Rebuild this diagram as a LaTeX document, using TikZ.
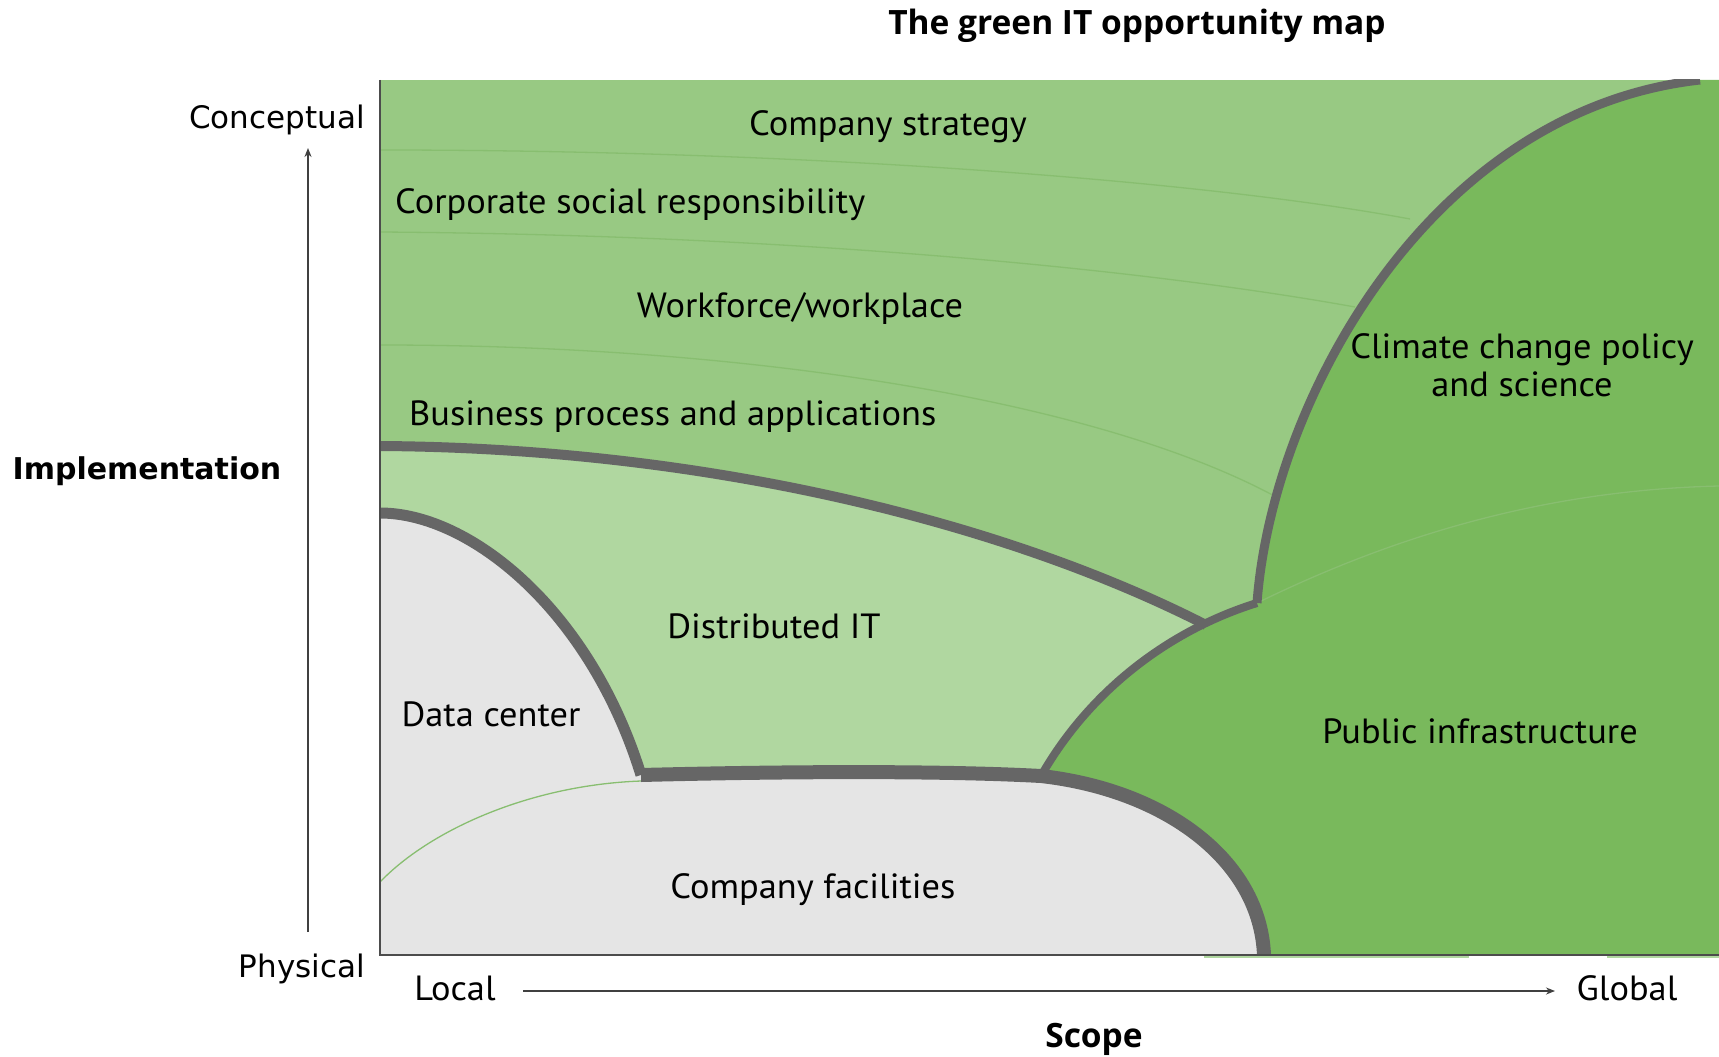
\documentclass[tikz,border=0pt]{standalone}
\usepackage{fontspec}
\setmainfont{PT Sans}[FakeStretch=1.04]
\newfontfamily\axisfont{DejaVu Sans}
\newfontfamily\boldfont{Open Sans}[UprightFont=* Bold]
\usetikzlibrary{arrows.meta}
\definecolor{gTop}{RGB}{152,201,131}
\definecolor{gLight}{RGB}{176,215,160}
\definecolor{gDark}{RGB}{121,185,92}
\definecolor{gGray}{RGB}{229,229,229}
\definecolor{bGray}{RGB}{102,102,102}
\definecolor{gLine}{RGB}{136,190,112}
\begin{document}
\begin{tikzpicture}[x=1pt,y=-1pt,
  lbl/.style={font=\fontsize{35}{40}\selectfont, inner sep=0pt, text=black, anchor=base},
  axlbl/.style={font=\axisfont\fontsize{31}{36}\selectfont, inner sep=0pt, anchor=base east},
  boldlbl/.style={font=\boldfont\fontsize{33.5}{38}\selectfont, inner sep=0pt, anchor=base},
  bound/.style={draw=bGray, line width=10pt, line join=round},
  thinl/.style={draw=gLine, line width=1.3pt},
  axis/.style={draw=black!75, line width=1.6pt, -{Stealth[length=9pt,width=7pt]}},
]
\useasboundingbox (0,0) rectangle (1719,1057);
\fill[white] (0,0) rectangle (1719,1057);
\begin{scope}
\clip (380,80) rectangle (1719,955);
\fill[gTop] (380,80) rectangle (1719,955);
\draw[thinl] (380,150) .. controls (800,150) and (1200,180) .. (1410,219);
\draw[thinl] (380,232) .. controls (800,235) and (1150,270) .. (1355,307);
\draw[thinl] (380,345) .. controls (750,345) and (1100,400) .. (1280,499);
\fill[gLight] (380,446) .. controls (700,448) and (1000,520) .. (1206,625) -- (1264,955) -- (380,955) -- cycle;
\fill[gGray] (380,513) .. controls (470,513) and (590,610) .. (641,775) .. controls (800,771) and (950,771) .. (1041,776) .. controls (1165,790) and (1260,860) .. (1264,955) -- (380,955) -- cycle;
\fill[gDark] (1041,776) .. controls (1090,690) and (1170,630) .. (1257,603) .. controls (1272,400) and (1430,110) .. (1700,80) -- (1719,80) -- (1719,955) -- (1264,955) .. controls (1260,860) and (1165,790) .. (1041,776) -- cycle;
\draw[thinl] (380,882) .. controls (430,830) and (530,785) .. (641,781);
\draw[thinl] (1257,603) .. controls (1400,533) and (1550,490) .. (1719,486);
\draw[bound] (380,446) .. controls (700,448) and (1000,520) .. (1206,625);
\draw[bound, line width=11pt] (380,513) .. controls (470,513) and (590,610) .. (641,775);
\draw[bound, line width=14pt, line cap=butt] (641,775) .. controls (800,771) and (950,771) .. (1041,776) .. controls (1165,790) and (1260,860) .. (1264,955);
\draw[bound, line width=8pt] (1041,776) .. controls (1090,690) and (1170,630) .. (1257,603);
\draw[bound, line width=9pt] (1257,603) .. controls (1272,400) and (1430,110) .. (1700,80);
\end{scope}
\fill[gLight] (1204,956) rectangle (1469,958);
\fill[gLight] (1607,956) rectangle (1719,958);
\draw[black!70, line width=2pt] (380,80) -- (380,955) -- (1719,955);
% region labels
\node[lbl] (cs) at (888,135) {Company strategy};
\node[lbl, anchor=base west] (csr) at (395,213) {Corporate social responsibility};
\node[lbl] (wf) at (800,317) {Workforce/workplace};
\node[lbl, anchor=base west] (bp) at (409,425) {Business process and applications};
\node[lbl] (cc1) at (1522,358) {Climate change policy};
\node[lbl] (cc2) at (1522,396) {and science};
\node[lbl] (dit) at (774,638) {Distributed IT};
\node[lbl] (dc) at (491,726) {Data center};
\node[lbl] (pi) at (1480,743) {Public infrastructure};
\node[lbl] (cf) at (813,898) {Company facilities};
% axes
\node[boldlbl] (title) at (1137,35) {The green IT opportunity map};
\node[axlbl] (con) at (365,128) {Conceptual};
\node[axlbl] (phy) at (365,977) {Physical};
\node[font=\axisfont\bfseries\fontsize{30}{36}\selectfont, inner sep=0pt, anchor=base] (impl) at (147,479) {Implementation};
\coordinate (vb) at (308,932);
\coordinate (vt) at (308,148);
\draw[axis] (vb) -- (vt);
\node[lbl] (loc) at (455,1000) {Local};
\node[lbl] (glo) at (1627,1000) {Global};
\coordinate (hl) at (523,991);
\coordinate (hr) at (1555,991);
\draw[axis] (hl) -- (hr);
\node[boldlbl] (scope) at (1094,1047) {Scope};
\end{tikzpicture}
\end{document}
